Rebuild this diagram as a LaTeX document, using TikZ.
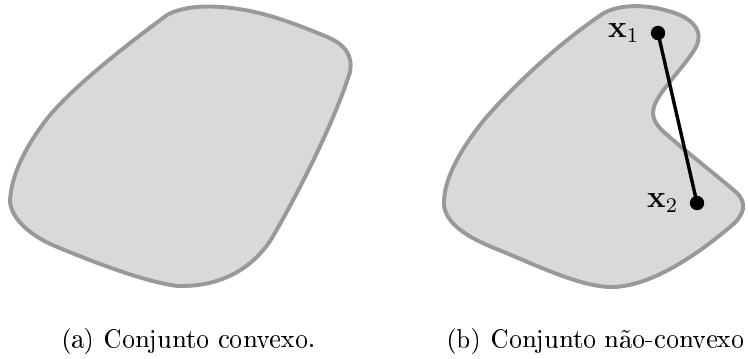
\documentclass[tikz,border=0pt]{standalone}
\usepackage[T1]{fontenc}
\begin{document}
\begin{tikzpicture}[x=0.382pt,y=-0.382pt,
  setshape/.style={draw=black!40,fill=black!15,line width=1.5pt},
  ptdot/.style={circle,fill=black,inner sep=0pt,minimum size=5.5pt},
  seg/.style={line width=1.3pt,black},
  ptlabel/.style={anchor=east,inner sep=0pt,font=\fontsize{11.5}{14}\selectfont},
  caption/.style={font=\fontsize{10}{12}\selectfont,inner sep=0pt}]
\useasboundingbox (0,0) rectangle (748,358);
% convex set
\path[setshape] (167,15) .. controls (185,5) and (215,4) .. (250,11)
  .. controls (280,17) and (310,30) .. (325,36)
  .. controls (345,44) and (353,55) .. (350,72)
  .. controls (335,120) and (300,190) .. (272,238)
  .. controls (255,265) and (225,287) .. (178,286)
  .. controls (150,283) and (100,265) .. (55,246)
  .. controls (35,238) and (10,220) .. (10,200)
  .. controls (12,170) and (30,140) .. (50,115)
  .. controls (80,80) and (140,35) .. (167,15) -- cycle;
% non-convex set
\path[setshape] (604,13) .. controls (620,4) and (650,3) .. (680,15)
  .. controls (695,22) and (702,32) .. (697,45)
  .. controls (690,60) and (665,85) .. (657,100)
  .. controls (650,112) and (652,122) .. (665,133)
  .. controls (690,155) and (720,178) .. (737,193)
  .. controls (747,203) and (745,215) .. (730,227)
  .. controls (700,252) and (655,285) .. (614,287)
  .. controls (580,288) and (530,262) .. (494,248)
  .. controls (470,238) and (446,225) .. (444,205)
  .. controls (443,180) and (460,150) .. (484,120)
  .. controls (520,78) and (570,35) .. (604,13) -- cycle;
\node[ptdot] (x1) at (658,33) {};
\node[ptdot] (x2) at (697,203) {};
\draw[seg] (x1.center) -- (x2.center);
\node[ptlabel] (l1) at ([xshift=-4pt]x1.west) {$\mathbf{x}_1$};
\node[ptlabel] (l2) at ([xshift=-4pt]x2.west) {$\mathbf{x}_2$};
\node[caption,anchor=base] (ca) at (188.5,347) {(a) Conjunto convexo.};
\node[caption,anchor=base west] (cb) at (446,347) {(b) Conjunto não-convexo};
\end{tikzpicture}
\end{document}
